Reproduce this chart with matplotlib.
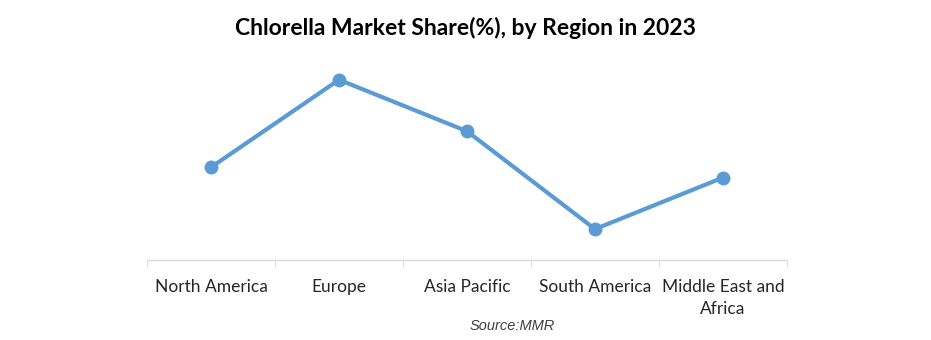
import matplotlib
matplotlib.use('Agg')
import matplotlib.pyplot as plt

# market share by region, 2023
regions = ['North America', 'Europe', 'Asia Pacific', 'South America', 'Middle East and\nAfrica']
share = [18, 35, 25, 6, 16]


def main():
    fig = plt.figure(figsize=(9.31, 3.4), dpi=100)
    ax = fig.add_axes([147 / 931, 80 / 340, 640 / 931, 206 / 340])

    x = list(range(len(regions)))
    ax.plot(x, share, color='#5B9BD5', linewidth=3, marker='o', markersize=9,
            solid_capstyle='round')

    ax.set_xlim(-0.5, len(regions) - 0.5)
    ax.set_ylim(0, 40)

    for side in ['top', 'right', 'left']:
        ax.spines[side].set_visible(False)
    ax.spines['bottom'].set_color('#D9D9D9')
    ax.spines['bottom'].set_linewidth(1)
    ax.set_yticks([])

    # category labels centred, tick marks on the boundaries
    ax.set_xticks(x)
    ax.set_xticklabels(regions, family='Lato', fontsize=12.5, color='#262626',
                       linespacing=1.45)
    ax.tick_params(axis='x', which='major', length=0, pad=14)
    ax.set_xticks([i - 0.5 for i in range(len(regions) + 1)], minor=True)
    ax.tick_params(axis='x', which='minor', length=5, color='#D9D9D9')

    fig.text(0.5, 1 - 28 / 340, 'Chlorella Market Share(%), by Region in 2023',
             ha='center', va='center', family='Lato', fontweight='bold',
             fontsize=16.5, color='black')
    fig.text(512 / 931, 1 - 326 / 340, 'Source:MMR', ha='center', va='center',
             family='Liberation Sans', style='italic', fontsize=10.5,
             color='#404040')

    fig.savefig('out.png', dpi=100, facecolor='white')


if __name__ == '__main__':
    main()
